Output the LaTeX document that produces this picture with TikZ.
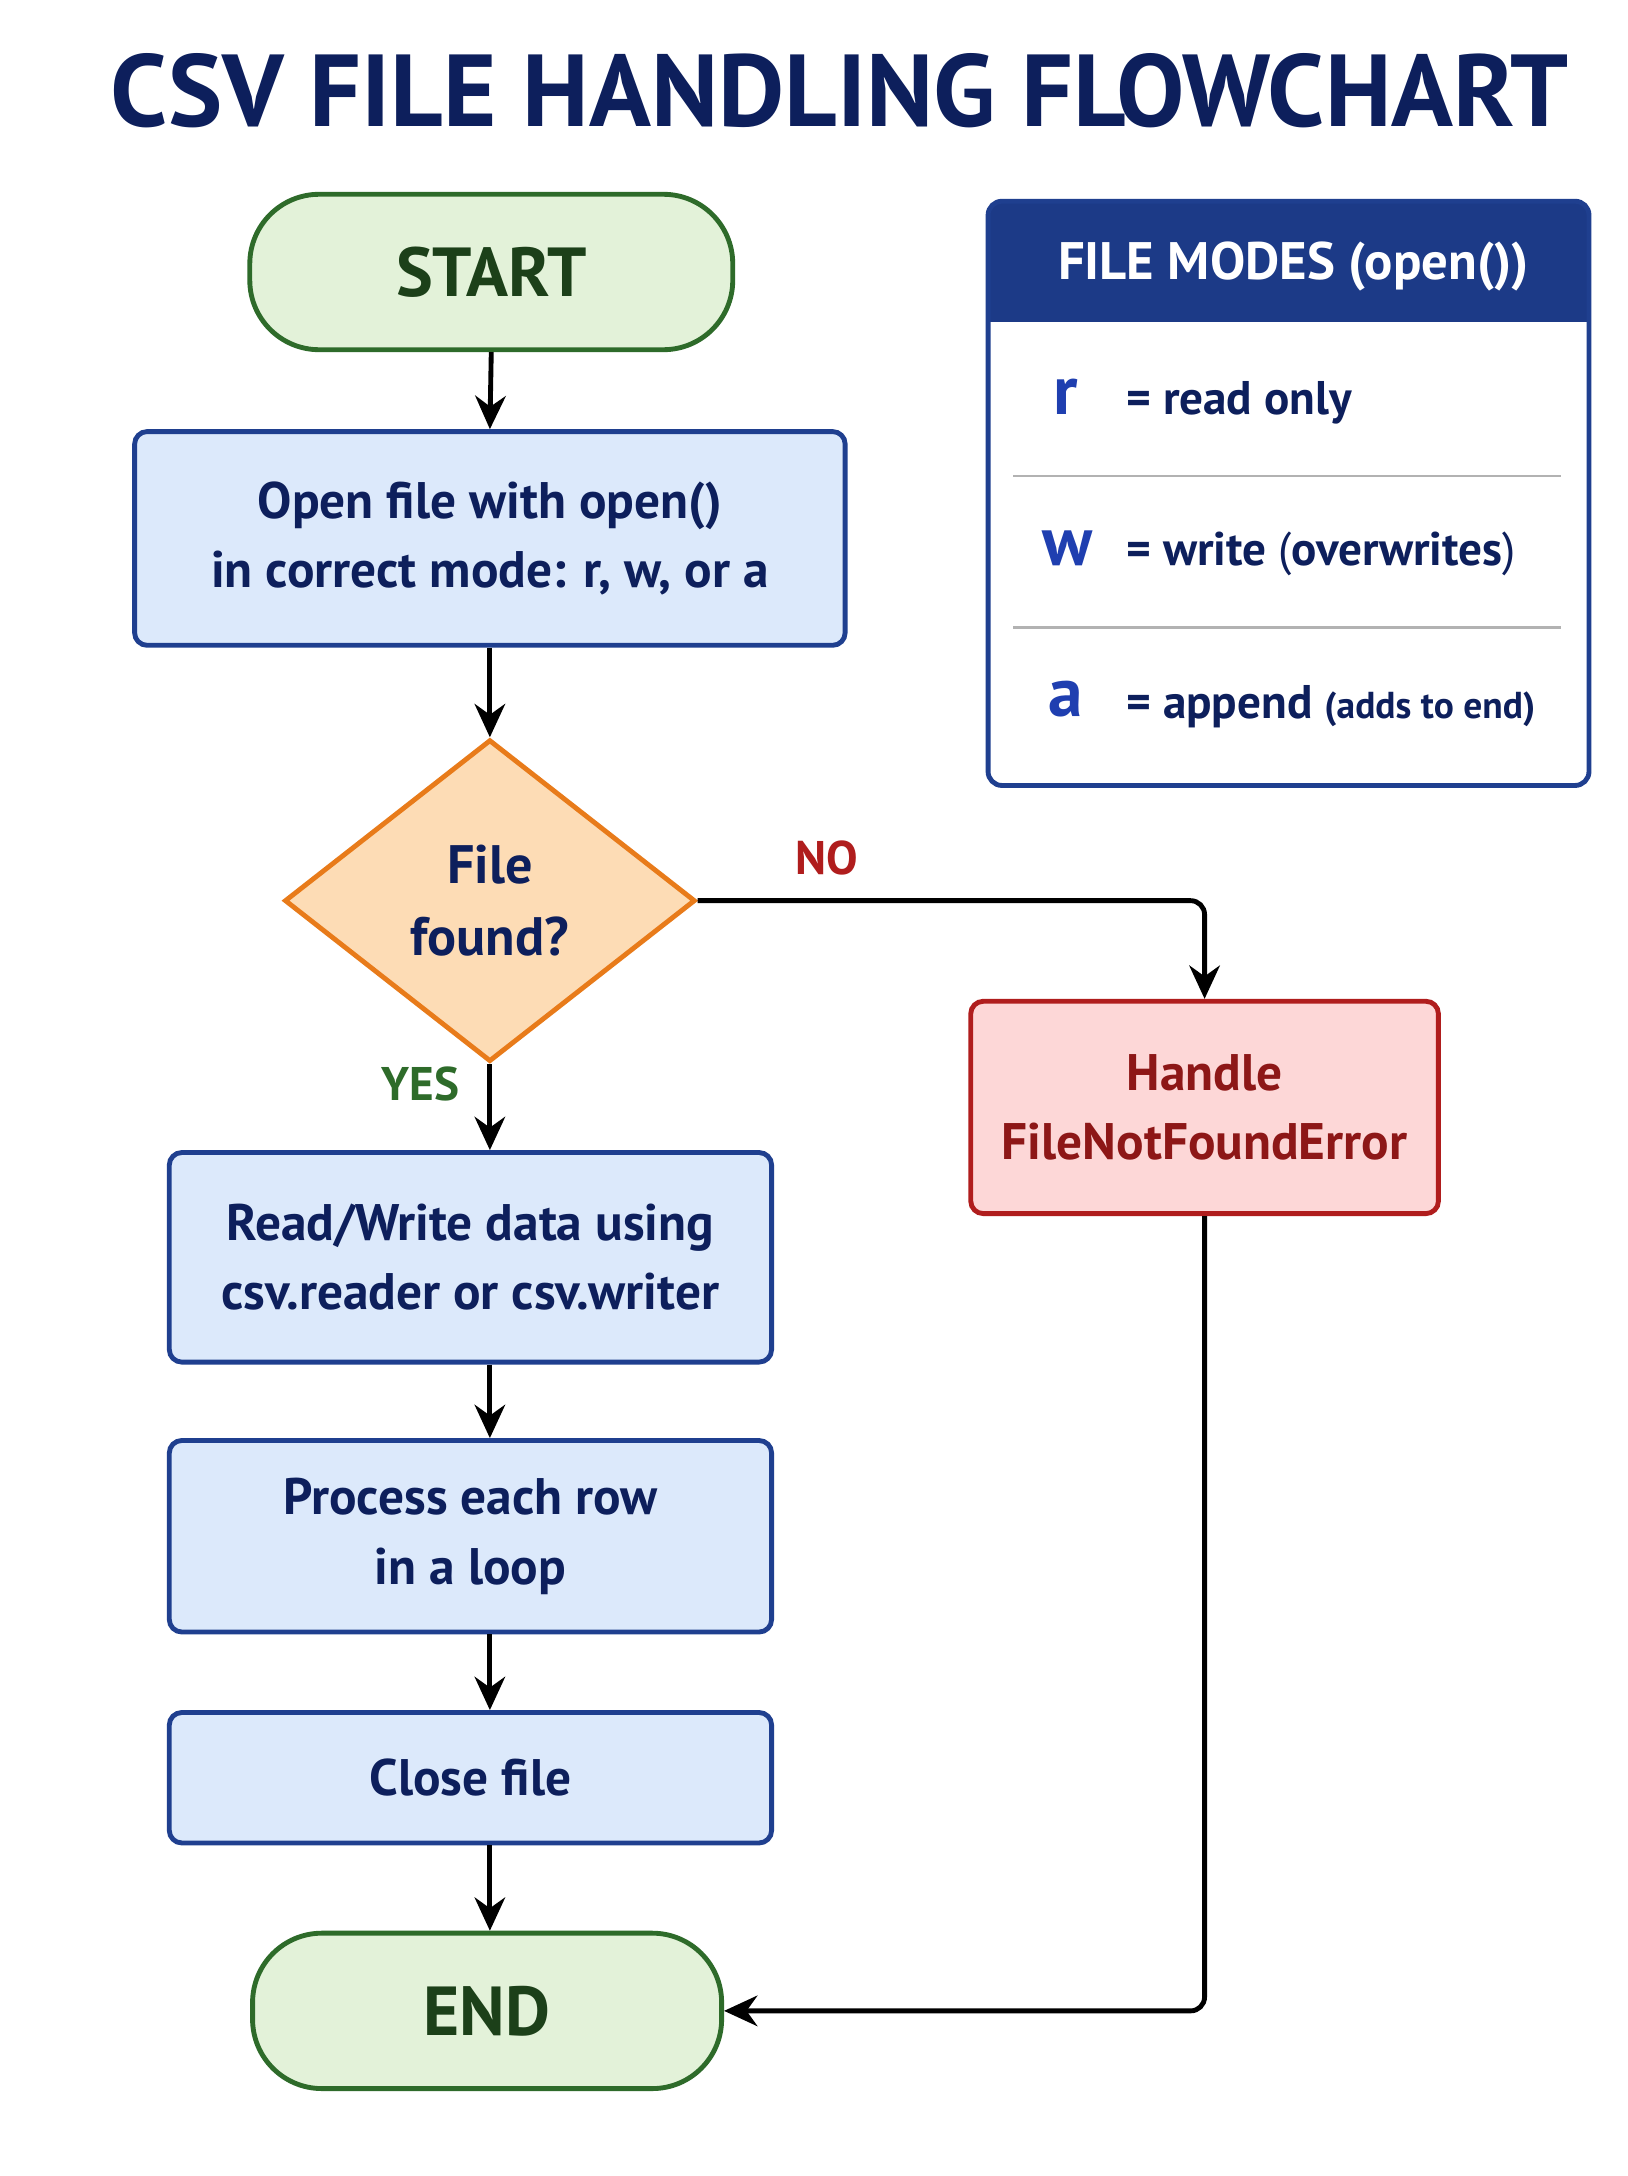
\documentclass[tikz,border=0pt]{standalone}
\usepackage{fontspec}
\setmainfont{PT Sans}
\usetikzlibrary{shapes.geometric,arrows.meta}
\definecolor{navy}{HTML}{0D1F5C}
\definecolor{boxfill}{HTML}{DCE9FB}
\definecolor{boxdraw}{HTML}{1F3F8F}
\definecolor{gfill}{HTML}{E3F2D9}
\definecolor{gdraw}{HTML}{2E6B2A}
\definecolor{ofill}{HTML}{FDDCB5}
\definecolor{odraw}{HTML}{E87B1A}
\definecolor{rfill}{HTML}{FDD7D7}
\definecolor{rdraw}{HTML}{B01D1D}
\definecolor{letter}{HTML}{1F3FB0}
\begin{document}
\begin{tikzpicture}[x=1pt,y=-1pt,
  term/.style={draw=gdraw,fill=gfill,line width=3.5pt,rounded corners=50pt,text=gdraw!60!black,font=\fontsize{50}{52}\selectfont\bfseries},
  proc/.style={draw=boxdraw,fill=boxfill,line width=3.5pt,rounded corners=9pt,text=navy,font=\fontsize{37}{50}\selectfont\bfseries,align=center},
  arr/.style={line width=3.5pt,-{Stealth[length=24pt,width=22pt]},rounded corners=10pt},
  lab/.style={font=\fontsize{34}{36}\selectfont\bfseries}]
\useasboundingbox[fill=white] (0,0) rectangle (1173,1568);
\node[text=navy,font=\fontsize{84}{90}\selectfont\bfseries] (title) at (605,65) {\resizebox{1050pt}{!}{CSV FILE HANDLING FLOWCHART}};
\node[term,minimum width=348pt,minimum height=112pt] (start) at (354,196) {START};
\node[proc,minimum width=512pt,minimum height=154pt] (open) at (353,388) {Open file with open()\\in correct mode: r, w, or a};
\node[diamond,draw=odraw,fill=ofill,line width=3.5pt,minimum width=296pt,minimum height=232pt,inner sep=0pt,text=navy,align=center,font=\fontsize{39}{52}\selectfont\bfseries] (dec) at (353,649) {File\\found?};
\node[proc,minimum width=434pt,minimum height=151pt] (rw) at (339,906) {Read/Write data using\\csv.reader or csv.writer};
\node[proc,minimum width=434pt,minimum height=138pt] (pr) at (339,1107) {Process each row\\in a loop};
\node[proc,minimum width=434pt,minimum height=94pt] (cl) at (339,1281) {Close file};
\node[term,minimum width=338pt,minimum height=112pt] (end) at (351,1449) {END};
\node[proc,draw=rdraw,fill=rfill,text=rdraw!80!black,minimum width=337pt,minimum height=153pt] (hd) at (868,798) {Handle\\FileNotFoundError};
\node[lab,text=rdraw] (no) at (596,618) {NO};
\node[lab,text=gdraw] (yes) at (303,781) {YES};
\draw[arr] (start.south) -- (open.north);
\draw[arr] (open.south) -- (dec.north);
\draw[arr] (dec.south) -- (dec.south |- rw.north);
\draw[arr] (rw.south -| dec.south) -- (dec.south |- pr.north);
\draw[arr] (pr.south -| dec.south) -- (dec.south |- cl.north);
\draw[arr] (cl.south -| dec.south) -- (dec.south |- end.north);
\draw[arr] (dec.east) -- (dec.east -| hd.north) -- (hd.north);
\draw[arr] (hd.south) -- (hd.south |- end.east) -- (end.east);
% legend
\node[minimum width=433pt,minimum height=421pt,anchor=north west] (leg) at (712,145) {};
\begin{scope}
\clip[rounded corners=10pt] (712,145) rectangle (1145,566);
\fill[boxdraw!85!navy] (712,145) rectangle (1145,232);
\end{scope}
\draw[boxdraw,line width=3.5pt,rounded corners=10pt] (712,145) rectangle (1145,566);
\node[text=white,font=\fontsize{38}{40}\selectfont\bfseries] (lh) at (932,192) {FILE MODES (open())};
\draw[gray!60,line width=2pt] (730,343) -- (1125,343);
\draw[gray!60,line width=2pt] (730,452) -- (1125,452);
\node[text=letter,font=\fontsize{50}{50}\selectfont\bfseries] (lr) at (768,286) {r};
\node[text=letter,font=\fontsize{50}{50}\selectfont\bfseries] (lw) at (769,395) {w};
\node[text=letter,font=\fontsize{50}{50}\selectfont\bfseries] (la) at (768,504) {a};
\node[anchor=west,text=navy,font=\fontsize{34}{36}\selectfont\bfseries] (tr) at (808,290) {= read only};
\node[anchor=west,text=navy,font=\fontsize{34}{36}\selectfont\bfseries] (tw) at (808,399) {= write {\mdseries(}overwrites{\mdseries)}};
\node[anchor=west,text=navy,font=\fontsize{34}{36}\selectfont\bfseries] (ta) at (808,509) {= append {\fontsize{27}{30}\selectfont(adds to end)}};
\end{tikzpicture}
\end{document}
